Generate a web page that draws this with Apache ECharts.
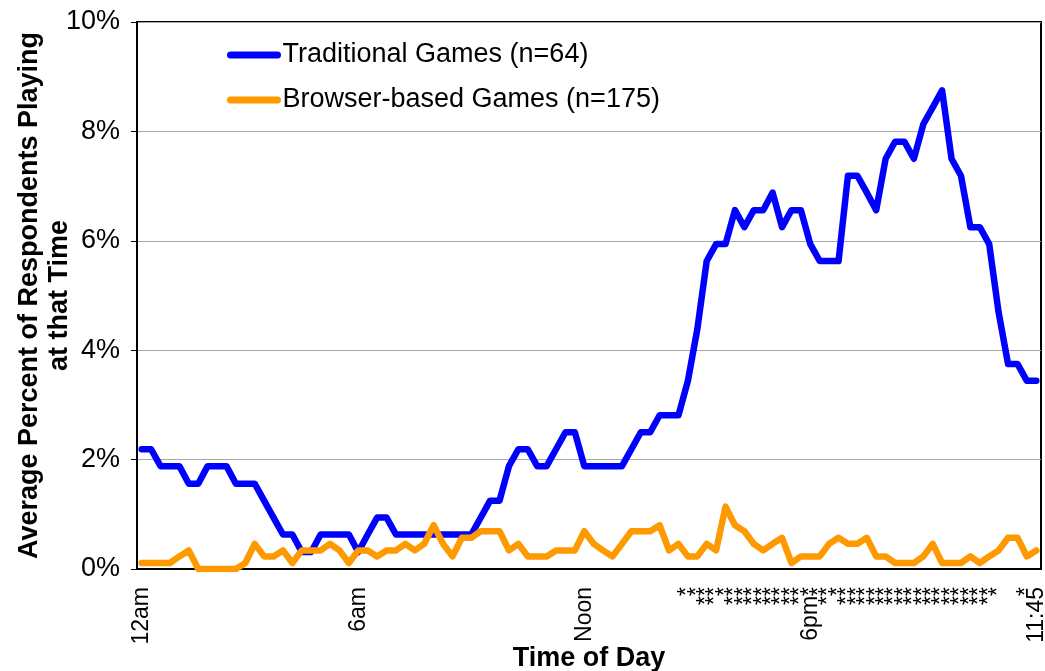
<!DOCTYPE html>
<html>
<head>
<meta charset="utf-8">
<style>
  html, body { margin: 0; padding: 0; background: #fff; }
  #chart { width: 1045px; height: 671px; }
</style>
<script src="https://cdn.jsdelivr.net/npm/echarts@6/dist/echarts.min.js"></script>
</head>
<body>
<div id="chart"></div>
<script>
// 96 slots of 15 minutes, midnight to 11:45pm
const slots = [];
for (let h = 0; h < 24; h++) {
  for (let m = 0; m < 60; m += 15) slots.push(h + ":" + (m < 10 ? "0" + m : m));
}

// tick labels shown under the axis (empty = no label)
const timeLabels = [
  "12am", "", "", "", "", "", "", "", "", "", "", "",
  "", "", "", "", "", "", "", "", "", "", "", "6am",
  "", "", "", "", "", "", "", "", "", "", "", "",
  "", "", "", "", "", "", "", "", "", "", "", "Noon",
  "", "", "", "", "", "", "", "", "", "", "", "",
  "", "", "", "", "", "", "", "", "", "", "", "6pm",
  "", "", "", "", "", "", "", "", "", "", "", "",
  "", "", "", "", "", "", "", "", "", "", "", "11:45"
];

// significance marks per slot
const sigMarks = [
  "", "", "", "", "", "", "", "", "", "", "", "",
  "", "", "", "", "", "", "", "", "", "", "", "",
  "", "", "", "", "", "", "", "", "", "", "", "",
  "", "", "", "", "", "", "", "", "", "", "", "",
  "", "", "", "", "", "", "", "", "", "", "*", "*",
  "**", "**", "*", "**", "**", "**", "**", "**", "**", "**", "**", "*",
  "*", "**", "*", "**", "**", "**", "**", "**", "**", "**", "**", "**",
  "**", "**", "**", "**", "**", "**", "**", "*", "", "", "*", ""
];

// percent of respondents playing, traditional games (n=64)
const traditional = [
  2.19, 2.19, 1.88, 1.88, 1.88, 1.56, 1.56, 1.88, 1.88, 1.88, 1.56, 1.56,
  1.56, 1.25, 0.94, 0.63, 0.63, 0.31, 0.31, 0.63, 0.63, 0.63, 0.63, 0.31,
  0.63, 0.94, 0.94, 0.63, 0.63, 0.63, 0.63, 0.63, 0.63, 0.63, 0.63, 0.63,
  0.94, 1.25, 1.25, 1.88, 2.19, 2.19, 1.88, 1.88, 2.19, 2.50, 2.50, 1.88,
  1.88, 1.88, 1.88, 1.88, 2.19, 2.50, 2.50, 2.81, 2.81, 2.81, 3.44, 4.38,
  5.63, 5.94, 5.94, 6.56, 6.25, 6.56, 6.56, 6.88, 6.25, 6.56, 6.56, 5.94,
  5.63, 5.63, 5.63, 7.19, 7.19, 6.88, 6.56, 7.50, 7.81, 7.81, 7.50, 8.13,
  8.44, 8.75, 7.50, 7.19, 6.25, 6.25, 5.94, 4.69, 3.75, 3.75, 3.44, 3.44
];

// percent of respondents playing, browser-based games (n=175)
const browser = [
  0.11, 0.11, 0.11, 0.11, 0.23, 0.34, 0.00, 0.00, 0.00, 0.00, 0.00, 0.11,
  0.46, 0.23, 0.23, 0.34, 0.11, 0.34, 0.34, 0.34, 0.46, 0.34, 0.11, 0.34,
  0.34, 0.23, 0.34, 0.34, 0.46, 0.34, 0.46, 0.80, 0.46, 0.23, 0.57, 0.57,
  0.69, 0.69, 0.69, 0.34, 0.46, 0.23, 0.23, 0.23, 0.34, 0.34, 0.34, 0.69,
  0.46, 0.34, 0.23, 0.46, 0.69, 0.69, 0.69, 0.80, 0.34, 0.46, 0.23, 0.23,
  0.46, 0.34, 1.14, 0.80, 0.69, 0.46, 0.34, 0.46, 0.57, 0.11, 0.23, 0.23,
  0.23, 0.46, 0.57, 0.46, 0.46, 0.57, 0.23, 0.23, 0.11, 0.11, 0.11, 0.23,
  0.46, 0.11, 0.11, 0.11, 0.23, 0.11, 0.23, 0.34, 0.57, 0.57, 0.23, 0.34
];

const font = "Liberation Sans, Arial, sans-serif";
const chart = echarts.init(document.getElementById("chart"));

const option = {
  animation: false,
  textStyle: { fontFamily: font, color: "#000" },
  grid: {
    left: 137,
    right: 4,
    top: 22,
    bottom: 102,
    containLabel: false,
    outerBoundsMode: "none",
    show: true,
    borderColor: "#000",
    borderWidth: 2,
  },
  legend: {
    orient: "vertical",
    left: 222,
    top: 35,
    itemWidth: 47,
    itemHeight: 14,
    itemGap: 15,
    textStyle: { fontFamily: font, fontSize: 27, color: "#000", lineHeight: 30 },
    lineStyle: { width: 7, cap: "round" },
    itemStyle: { opacity: 0 },
    data: ["Traditional Games (n=64)", "Browser-based Games (n=175)"],
  },
  xAxis: {
    type: "category",
    data: slots,
    boundaryGap: true,
    name: "Time of Day",
    nameLocation: "middle",
    nameGap: 76,
    nameMoveOverlap: false,
    nameTextStyle: { fontFamily: font, fontSize: 27, fontWeight: "bold", color: "#000" },
    axisLine: { lineStyle: { color: "#000", width: 2 } },
    axisTick: { interval: 0, length: 6, lineStyle: { color: "#000", width: 1 } },
    axisLabel: {
      interval: 0,
      rotate: 90,
      margin: 18,
      fontFamily: font,
      fontSize: 23,
      color: "#000",
      formatter: (value, index) => timeLabels[index] + sigMarks[index],
    },
    splitLine: { show: false },
  },
  yAxis: {
    type: "value",
    min: 0,
    max: 10,
    interval: 2,
    name: "Average Percent of Respondents Playing\nat that Time",
    nameLocation: "middle",
    nameRotate: 90,
    nameGap: 62,
    nameMoveOverlap: false,
    nameTextStyle: { fontFamily: font, fontSize: 27, fontWeight: "bold", color: "#000", lineHeight: 30 },
    axisLine: { show: true, lineStyle: { color: "#000", width: 2 } },
    axisTick: { show: true, length: 6, lineStyle: { color: "#000", width: 1 } },
    axisLabel: {
      formatter: "{value}%",
      margin: 17,
      fontFamily: font,
      fontSize: 27,
      color: "#000",
    },
    splitLine: { lineStyle: { color: "#a8a8a8", width: 1 } },
  },
  series: [
    {
      name: "Traditional Games (n=64)",
      type: "line",
      data: traditional,
      symbol: "none",
      lineStyle: { color: "#0000ff", width: 6.5, join: "round", cap: "round" },
      itemStyle: { color: "#0000ff" },
    },
    {
      name: "Browser-based Games (n=175)",
      type: "line",
      data: browser,
      symbol: "none",
      lineStyle: { color: "#ff9900", width: 6.5, join: "round", cap: "round" },
      itemStyle: { color: "#ff9900" },
    },
  ],
};

option && chart.setOption(option);
</script>
</body>
</html>
